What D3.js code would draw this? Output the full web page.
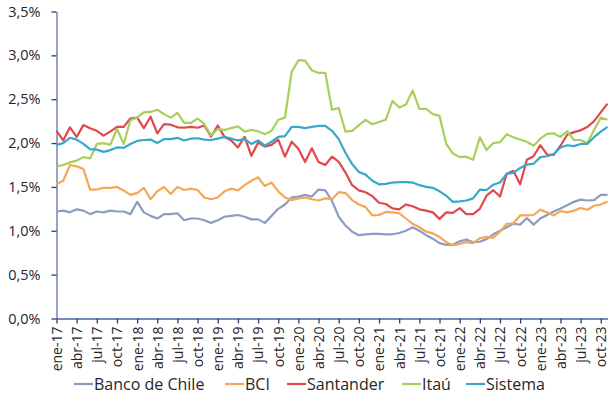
<!DOCTYPE html>
<html><head><meta charset="utf-8">
<script src="https://cdn.jsdelivr.net/npm/d3@7"></script>
<style>body{margin:0;background:#fff}svg{display:block}text{font-family:"Open Sans",sans-serif;fill:#262626}</style>
</head><body><svg id="c" width="610" height="410"></svg>
<script>
const categories = [
"ene-17","feb-17","mar-17","abr-17","may-17","jun-17","jul-17","ago-17","sep-17","oct-17","nov-17","dic-17",
"ene-18","feb-18","mar-18","abr-18","may-18","jun-18","jul-18","ago-18","sep-18","oct-18","nov-18","dic-18",
"ene-19","feb-19","mar-19","abr-19","may-19","jun-19","jul-19","ago-19","sep-19","oct-19","nov-19","dic-19",
"ene-20","feb-20","mar-20","abr-20","may-20","jun-20","jul-20","ago-20","sep-20","oct-20","nov-20","dic-20",
"ene-21","feb-21","mar-21","abr-21","may-21","jun-21","jul-21","ago-21","sep-21","oct-21","nov-21","dic-21",
"ene-22","feb-22","mar-22","abr-22","may-22","jun-22","jul-22","ago-22","sep-22","oct-22","nov-22","dic-22",
"ene-23","feb-23","mar-23","abr-23","may-23","jun-23","jul-23","ago-23","sep-23","oct-23","nov-23"];
const tickLabels = ["ene-17","abr-17","jul-17","oct-17","ene-18","abr-18","jul-18","oct-18","ene-19","abr-19","jul-19","oct-19",
"ene-20","abr-20","jul-20","oct-20","ene-21","abr-21","jul-21","oct-21","ene-22","abr-22","jul-22","oct-22","ene-23","abr-23","jul-23","oct-23"];
const yTicks = [0,0.5,1.0,1.5,2.0,2.5,3.0,3.5];
const seriesNames = ["Banco de Chile","BCI","Santander","Itaú","Sistema"];
const bancoDeChile = [1.22,1.23,1.21,1.245,1.23,1.19,1.22,1.21,1.23,1.22,
1.22,1.19,1.33,1.21,1.17,1.14,1.19,1.19,1.20,1.12,
1.14,1.14,1.12,1.09,1.12,1.16,1.17,1.18,1.16,1.13,
1.13,1.09,1.17,1.25,1.30,1.38,1.39,1.41,1.39,1.47,
1.46,1.34,1.16,1.06,0.99,0.95,0.96,0.965,0.965,0.96,
0.96,0.975,1.0,1.04,1.0,0.95,0.91,0.86,0.84,0.84,
0.88,0.90,0.87,0.875,0.905,0.96,1.0,1.04,1.08,1.07,
1.145,1.07,1.14,1.18,1.22,1.255,1.29,1.33,1.355,1.345,
1.35,1.41,1.41];
const bci = [1.53,1.57,1.75,1.735,1.705,1.47,1.47,1.49,1.49,1.50,
1.46,1.41,1.43,1.49,1.36,1.45,1.50,1.42,1.50,1.465,
1.48,1.465,1.38,1.36,1.38,1.45,1.48,1.46,1.52,1.57,
1.61,1.51,1.55,1.45,1.38,1.35,1.37,1.38,1.36,1.345,
1.37,1.36,1.44,1.43,1.35,1.30,1.27,1.175,1.18,1.215,
1.21,1.20,1.14,1.08,1.04,0.99,0.97,0.93,0.87,0.835,
0.85,0.87,0.86,0.915,0.93,0.92,0.99,1.08,1.085,1.175,
1.175,1.18,1.24,1.21,1.175,1.225,1.21,1.23,1.26,1.24,
1.285,1.30,1.335];
const santander = [2.14,2.03,2.18,2.07,2.205,2.17,2.14,2.085,2.13,2.185,
2.185,2.28,2.29,2.17,2.30,2.11,2.215,2.21,2.18,2.175,
2.185,2.175,2.20,2.075,2.20,2.07,2.03,1.95,2.07,1.855,
2.005,1.96,1.98,2.04,1.845,2.015,1.935,1.785,1.94,1.785,
1.75,1.845,1.785,1.665,1.52,1.46,1.44,1.395,1.32,1.305,
1.255,1.245,1.30,1.28,1.245,1.23,1.21,1.136,1.21,1.205,
1.258,1.19,1.19,1.25,1.40,1.463,1.39,1.65,1.683,1.53,
1.81,1.85,1.977,1.87,1.865,1.97,2.095,2.125,2.145,2.183,
2.25,2.35,2.45];
const itau = [1.735,1.75,1.78,1.80,1.84,1.825,1.99,2.0,1.98,2.16,
1.99,2.26,2.29,2.35,2.355,2.38,2.33,2.29,2.345,2.23,
2.23,2.28,2.215,2.09,2.16,2.15,2.17,2.19,2.13,2.15,
2.135,2.10,2.14,2.265,2.29,2.81,2.945,2.94,2.83,2.80,
2.80,2.38,2.40,2.13,2.14,2.205,2.265,2.215,2.24,2.265,
2.48,2.405,2.44,2.60,2.39,2.39,2.33,2.31,1.99,1.88,
1.84,1.845,1.81,2.065,1.92,2.0,2.01,2.10,2.065,2.04,
2.015,1.97,2.05,2.105,2.11,2.07,2.135,2.035,2.035,2.0,
2.15,2.29,2.265];
const sistema = [1.98,2.0,2.06,2.04,1.99,1.93,1.925,1.90,1.92,1.95,
1.945,1.99,2.025,2.035,2.04,2.0,2.045,2.045,2.06,2.03,
2.05,2.055,2.04,2.035,2.05,2.07,2.05,2.03,2.045,1.99,
2.03,1.97,2.015,2.07,2.08,2.185,2.185,2.17,2.185,2.195,
2.195,2.14,2.045,1.89,1.76,1.67,1.64,1.57,1.53,1.535,
1.55,1.555,1.555,1.55,1.52,1.50,1.49,1.45,1.40,1.33,
1.335,1.345,1.37,1.47,1.465,1.525,1.55,1.648,1.66,1.717,
1.755,1.765,1.84,1.85,1.875,1.95,1.975,1.965,1.99,1.99,
2.067,2.13,2.185];
const colors = ["#8e9bc4","#f4a754","#e0484d","#a7d05b","#38a8c9"];

const series = [bancoDeChile,bci,santander,itau,sistema];
const svg = d3.select("#c");
const x = d3.scalePoint().domain(categories).range([56.5,607.5]);
const y = d3.scaleLinear().domain([0,3.5]).range([318.5,11.5]);

// y axis
const ya = svg.append("g").attr("transform","translate(56.5,0)")
  .call(d3.axisLeft(y).tickValues(yTicks).tickSize(5).tickSizeOuter(0)
    .tickFormat(d=>d.toFixed(1).replace(".",",")+"%"));
ya.select(".domain").attr("stroke","#7384b0").attr("stroke-width",1.5);
ya.selectAll(".tick line").attr("stroke","#2c3d6e").attr("stroke-width",1.3);
ya.selectAll(".tick text").attr("x",-16).style("font-size","14.5px").style("fill","#262626").style("font-family","'Open Sans',sans-serif");

// x axis
const xa = svg.append("g").attr("transform","translate(0,318.5)")
  .call(d3.axisBottom(x).tickValues(tickLabels).tickSize(5).tickSizeOuter(0));
xa.select(".domain").attr("stroke","#4a63a3").attr("stroke-width",1.3);
xa.selectAll(".tick line").attr("stroke","#2c3d6e").attr("stroke-width",1.3);
xa.selectAll(".tick text").attr("transform","rotate(-90)").attr("x",-8).attr("y",0).attr("dy","0.35em")
  .attr("text-anchor","end").style("font-size","14px").style("fill","#262626").style("font-family","'Open Sans',sans-serif");

// lines
const line = d3.line().x((d,i)=>x(categories[i])).y(d=>y(d));
series.forEach((s,k)=>{
  svg.append("path").datum(s).attr("d",line).attr("fill","none")
    .attr("stroke",colors[k]).attr("stroke-width",2.2).attr("stroke-linejoin","round");
});

// legend
const legendX = [74,225,287,402,466];
const lg = svg.append("g").attr("transform","translate(0,384)");
seriesNames.forEach((n,k)=>{
  const g = lg.append("g").attr("transform",`translate(${legendX[k]},0)`);
  g.append("line").attr("x1",0).attr("x2",19).attr("y1",0).attr("y2",0).attr("stroke",colors[k]).attr("stroke-width",2.2);
  g.append("text").attr("x",20).attr("dy","0.35em").text(n).style("font-size","16px");
});
</script></body></html>
